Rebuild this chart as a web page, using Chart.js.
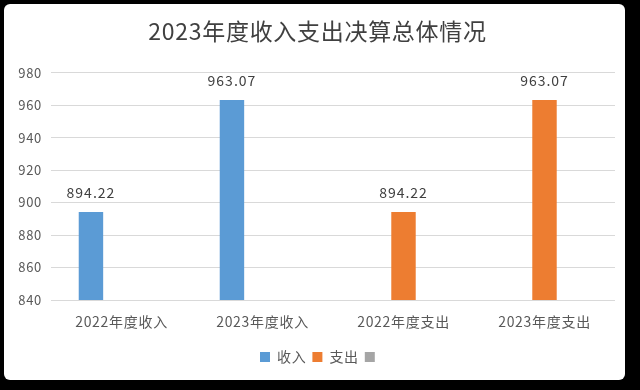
<!DOCTYPE html>
<html>
<head>
<meta charset="utf-8">
<script src="https://cdn.jsdelivr.net/npm/chart.js@4"></script>
<style>
  html, body { margin: 0; padding: 0; background: #000; }
  #box {
    position: absolute; left: 4px; top: 4px;
    width: 621px; height: 376px;
    background: #fff; border-radius: 6px;
  }
</style>
</head>
<body>
<div id="box"><canvas id="budgetChart"></canvas></div>
<script>
const categories = ['2022年度收入', '2023年度收入', '2022年度支出', '2023年度支出'];
const incomeValues = [894.22, 963.07, null, null];
const expenseValues = [null, null, 894.22, 963.07];
const otherValues = [null, null, null, null];

const FONT = "'Noto Sans CJK SC', 'Noto Sans', sans-serif";

// value labels above each bar, slight letter spacing like the original
const barLabels = {
    id: 'barLabels',
    beforeDraw(chart) {
        chart.ctx.letterSpacing = '0.7px';
    },
    afterLayout(chart) {
        // legend has an empty third item, nudge it back to the centre
        chart.legend.left += 10;
        chart.legend.right += 10;
        chart.titleBlock.left += 8;
        chart.titleBlock.right += 8;
    },
    afterDatasetsDraw(chart) {
        const ctx = chart.ctx;
        ctx.save();
        ctx.letterSpacing = '1px';
        ctx.font = '14px ' + FONT;
        ctx.fillStyle = '#404040';
        ctx.textAlign = 'center';
        ctx.textBaseline = 'alphabetic';
        chart.data.datasets.forEach((ds, i) => {
            chart.getDatasetMeta(i).data.forEach((bar, j) => {
                const v = ds.data[j];
                if (v == null) return;
                ctx.fillText(v.toFixed(2), bar.x, bar.y - 14);
            });
        });
        ctx.restore();
    }
};

new Chart(document.getElementById('budgetChart').getContext('2d'), {
    type: 'bar',
    data: {
        labels: categories,
        datasets: [
            { label: '收入', data: incomeValues, backgroundColor: '#5B9BD5' },
            { label: '支出', data: expenseValues, backgroundColor: '#ED7D31' },
            { label: '', data: otherValues, backgroundColor: '#A5A5A5' }
        ]
    },
    options: {
        responsive: true,
        maintainAspectRatio: false,
        animation: false,
        categoryPercentage: 0.65,
        barPercentage: 0.8,
        layout: { padding: { top: 13, right: 10, bottom: 6, left: 0 } },
        plugins: {
            title: {
                display: true,
                text: '2023年度收入支出决算总体情况',
                color: '#404040',
                font: { family: FONT, size: 23, weight: 'normal' },
                padding: { top: 0, bottom: 28 }
            },
            legend: {
                position: 'bottom',
                labels: {
                    color: '#595959',
                    font: { family: FONT, size: 14 },
                    boxWidth: 10,
                    boxHeight: 10,
                    padding: 6
                }
            },
            tooltip: { enabled: false }
        },
        scales: {
            x: {
                grid: { display: false },
                border: { display: false },
                ticks: { color: '#595959', font: { family: FONT, size: 14 }, padding: 5 },
                afterFit(scale) { scale.height = 44; }
            },
            y: {
                min: 840,
                max: 980,
                ticks: { stepSize: 20, color: '#595959', font: { family: FONT, size: 13 }, padding: 9 },
                grid: { color: '#d9d9d9', drawTicks: false },
                border: { display: false },
                afterFit(scale) { scale.width = 47; }
            }
        }
    },
    plugins: [barLabels]
});
</script>
</body>
</html>
